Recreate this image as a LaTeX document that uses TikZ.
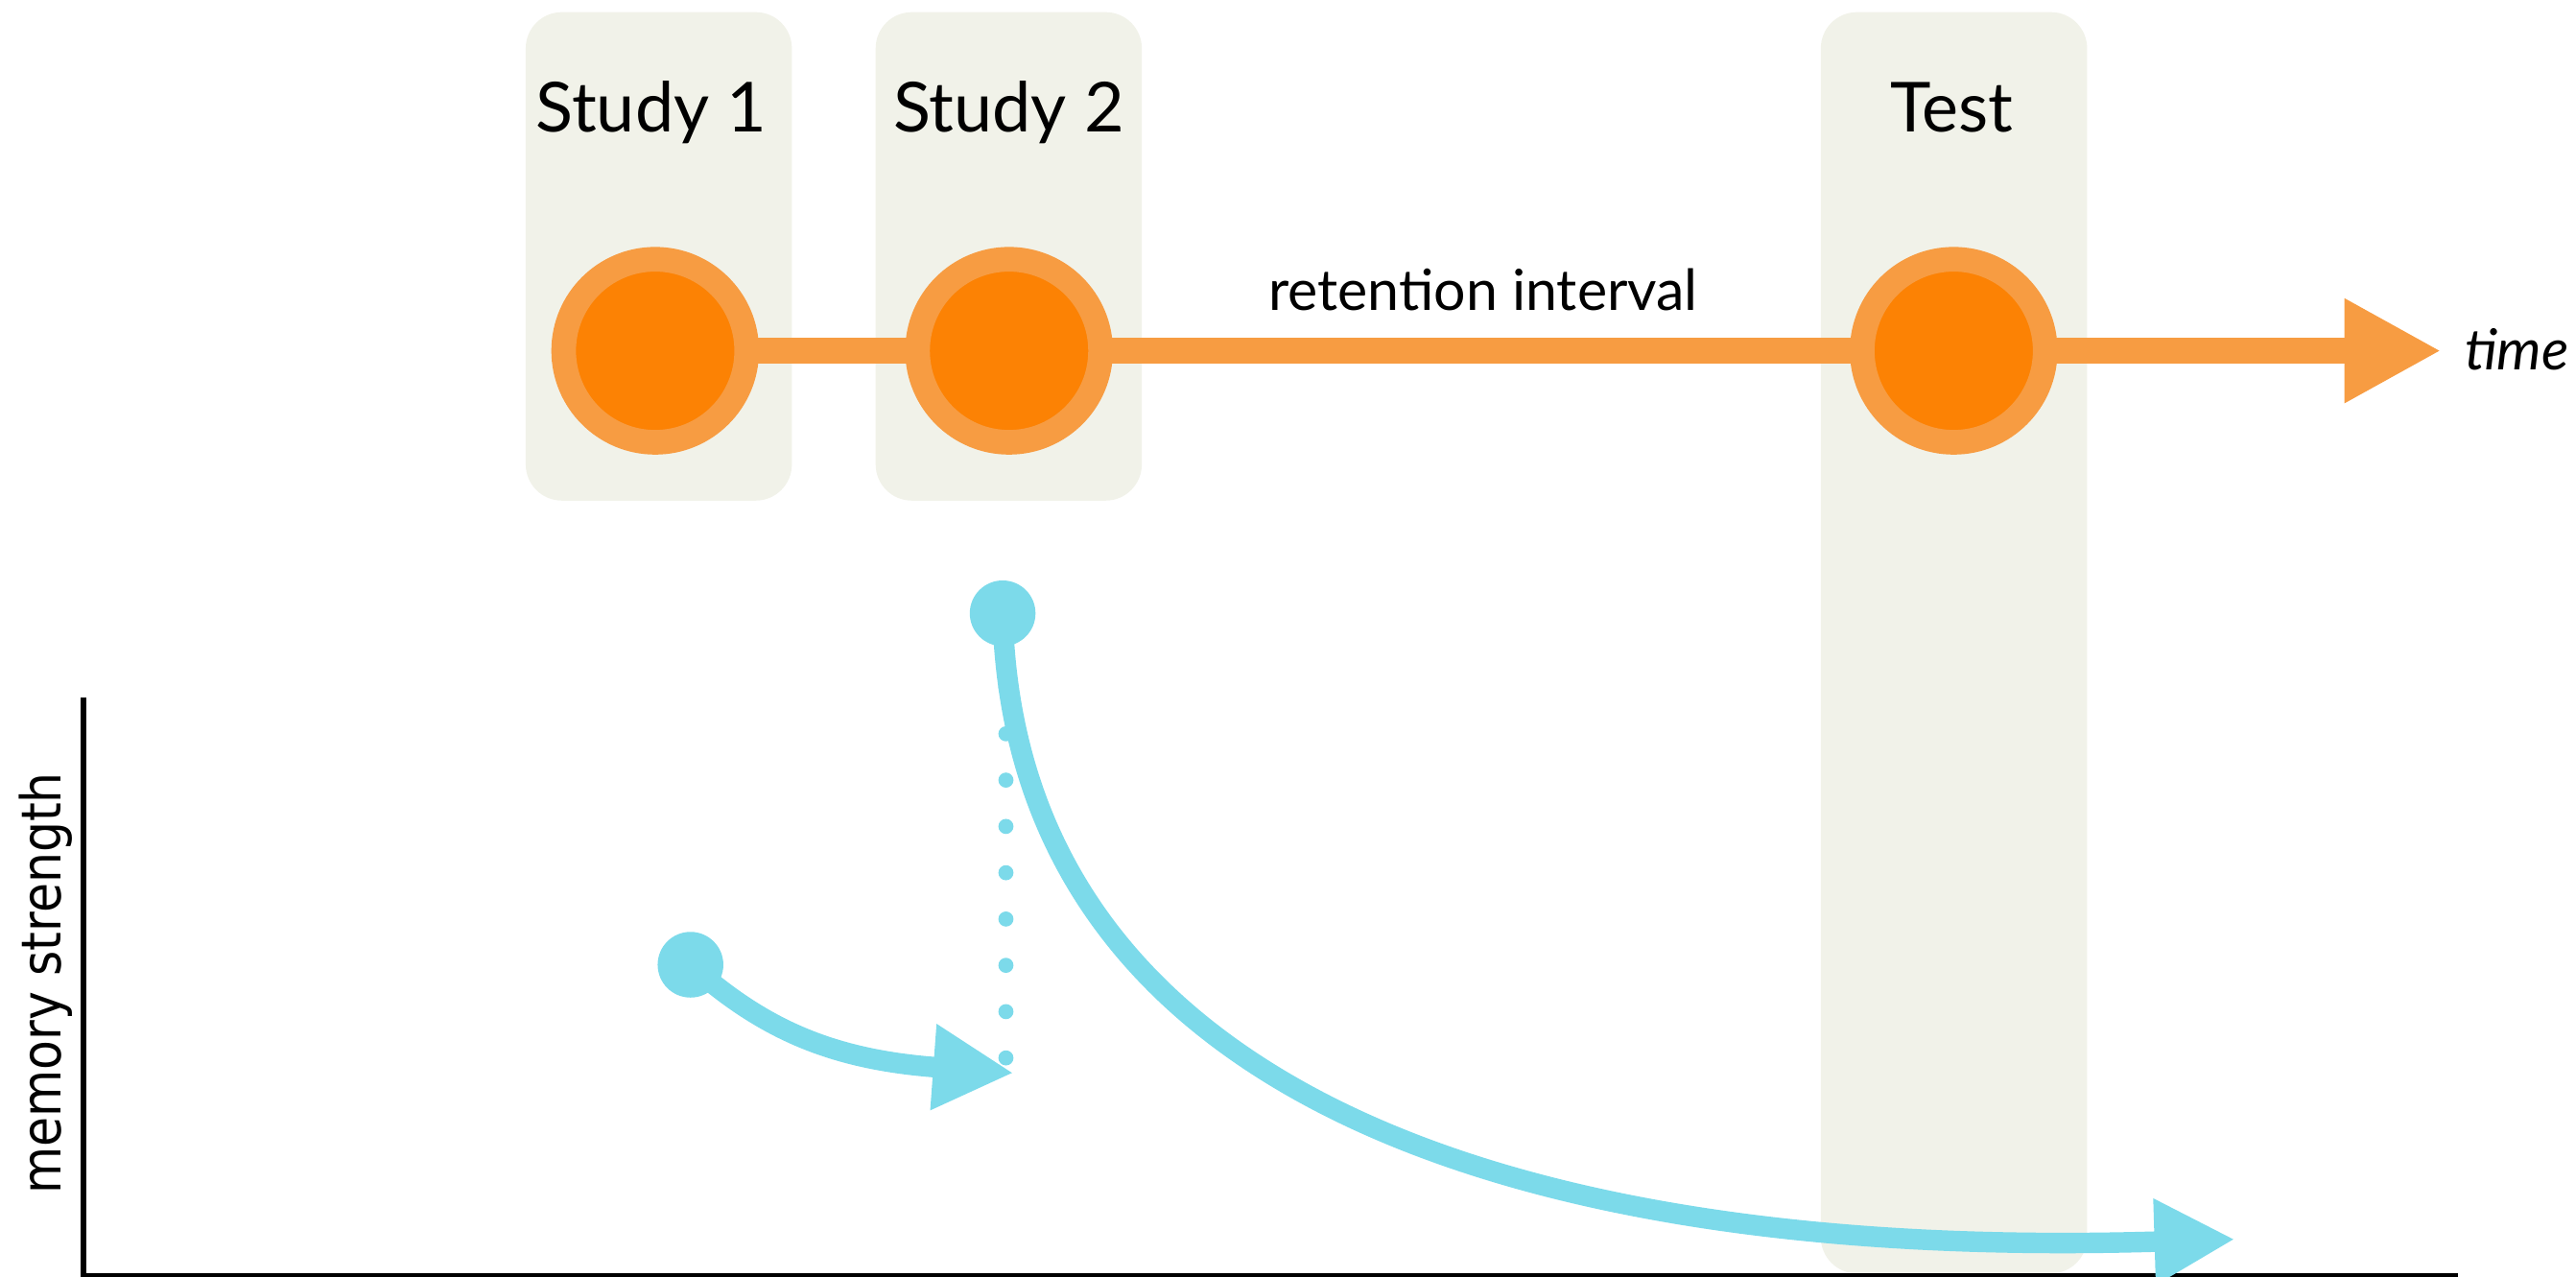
\documentclass[tikz,border=0pt]{standalone}
\usepackage{fontspec}
\setmainfont{Lato}
\newfontfamily\axisfont[FakeStretch=0.88]{DejaVu Sans}
\usetikzlibrary{arrows.meta}
\definecolor{panel}{RGB}{241,242,233}
\definecolor{ring}{RGB}{247,156,66}
\definecolor{core}{RGB}{252,130,4}
\definecolor{trace}{RGB}{124,218,234}

\begin{document}
\begin{tikzpicture}[x=1pt,y=-1pt,
  panelbox/.style={fill=panel, rounded corners=22pt},
  event/.style={circle, draw=ring, fill=core, line width=15pt, minimum size=111.4pt, inner sep=0pt},
  phase/.style={inner sep=0pt, anchor=base, font=\fontsize{42}{50}\selectfont},
  note/.style={inner sep=0pt, font=\fontsize{34.5}{40}\selectfont},
  timeline/.style={draw=ring, line width=15.7pt, -{Triangle[length=59pt,width=59.4pt]}},
  tracedot/.style={circle, fill=trace, minimum size=40pt, inner sep=0pt},
  decay/.style={draw=trace, line width=12.5pt, -{Triangle[length=49pt,width=49pt]}},
  jump/.style={draw=trace, line width=9.2pt, line cap=round, dash pattern=on 0pt off 28.18pt},
  axisline/.style={draw=black, line width=3.5pt},
]
\useasboundingbox (0,0) rectangle (1568,777);

% phase panels
\fill[panelbox] (320,7.4) rectangle (482,304.7);
\fill[panelbox] (533,7.4) rectangle (695,304.7);
\fill[panelbox] (1108.3,7.4) rectangle (1270.4,775.1);

% time line with the three events
\coordinate (c1) at (398.8,213.5);
\coordinate (c2) at (614.2,213.5);
\coordinate (c3) at (1189.2,213.5);
\coordinate (tend) at (1486,213.5);
\draw[timeline] (c1) -- (tend);
\node[event] (s1) at (c1) {};
\node[event] (s2) at (c2) {};
\node[event] (s3) at (c3) {};

\node[phase] (l1) at (396.5,80.4) {Study 1};
\node[phase] (l2) at (614,80.4) {Study 2};
\node[phase] (l3) at (1188,80.4) {Test};
\node[note, anchor=base] (ri) at (902.8,188.8) {retention interval};
\node[note, anchor=base west] (tm) at (1500.1,225.2) {\itshape time};

% strength axes
\coordinate (origin) at (51,776.5);
\coordinate (ytop) at (51,424.6);
\coordinate (xend) at (1496.4,776.5);
\draw[axisline] (ytop) -- (origin) -- (xend);
\node[inner sep=0pt, anchor=base, rotate=90, font=\axisfont\fontsize{33.5}{40}\selectfont] (ms) at (37,598.5) {memory strength};

% memory traces
\coordinate (dtop) at (612.3,390.3);
\coordinate (dbot) at (612.3,647);
\draw[jump] (dtop) -- (dbot);

\node[tracedot] (b1) at (420.3,587.2) {};
\node[tracedot] (b2) at (610.3,373.3) {};
\coordinate (tip1) at (617,653.1);
\coordinate (tip2) at (1360.4,754.3);
\draw[decay] (b1.center) .. controls (465,627) and (507,645) .. (tip1);
\draw[decay] (b2.center) .. controls (617,655) and (905,768) .. (tip2);
\end{tikzpicture}
\end{document}
